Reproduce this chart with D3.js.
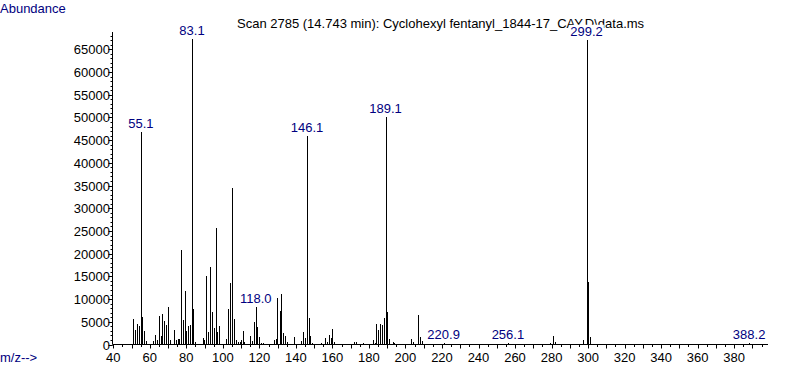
<!DOCTYPE html>
<html><head><meta charset="utf-8">
<script src="https://cdn.jsdelivr.net/npm/d3@7"></script>
<style>
html,body{margin:0;padding:0;background:#fff;}
svg{display:block;}
text{font-family:"Liberation Sans",Arial,sans-serif;}
</style></head>
<body>
<svg id="chart" width="787" height="367"></svg>
<script>
// m/z positions and abundances
const mz = [50.8,51.9,53.0,54.1,55.1,55.7,56.8,57.9,61.7,62.8,63.9,65.0,66.1,66.7,67.8,68.9,70.0,71.1,73.2,74.3,75.4,76.0,77.1,78.2,79.3,79.8,80.9,82.0,83.1,83.6,84.7,
  89.1,89.7,90.8,91.9,93.0,94.1,95.1,96.2,96.8,97.9,101.7,102.8,103.9,105.0,106.1,107.2,108.3,109.4,109.9,111.0,111.6,114.9,116.0,117.1,118.0,118.7,119.8,120.9,122.0,
  128.0,129.1,129.7,131.3,131.8,132.9,134.0,135.1,139.0,142.8,143.9,145.0,146.1,147.2,147.7,148.8,153.7,155.9,157.0,158.1,159.2,159.8,160.9,171.8,172.9,176.7,
  182.2,183.3,183.9,185.0,186.1,187.2,188.2,189.1,189.9,191.0,193.2,193.7,203.0,204.1,206.9,208.0,209.1,220.9,256.1,279.2,280.8,281.9,297.2,299.2,300.0,301.1,388.2];
const abundance = [5720,3150,4470,4030,46900,6000,2930,730,730,2050,950,6230,1830,6670,5130,4250,8210,950,3150,1100,1170,1170,20750,5350,11730,2930,4180,4400,67300,7770,500,
  1350,1000,15170,2860,17150,7260,3590,25730,2860,4030,1250,7920,13640,34530,5720,1100,500,650,900,3080,500,1980,880,5060,8210,3960,1610,440,440,
  1050,1300,10150,7480,11220,2640,1980,510,1760,880,2860,1470,45940,5940,1980,440,440,1540,660,2200,1540,3520,660,660,660,440,
  1100,440,4620,3300,4620,4400,5940,50000,7260,1320,660,440,1250,660,6520,1760,880,300,300,440,1980,660,1100,67100,13700,1760,300];
const peakLabels = ["55.1","83.1","118.0","146.1","189.1","220.9","256.1","299.2","388.2"];
const xTicks = [40,60,80,100,120,140,160,180,200,220,240,260,280,300,320,340,360,380];
const yTicks = [0,5000,10000,15000,20000,25000,30000,35000,40000,45000,50000,55000,60000,65000];
const title = "Scan 2785 (14.743 min): Cyclohexyl fentanyl_1844-17_CAY.D\\data.ms";

const svg = d3.select("#chart");
const x = d3.scaleLinear().domain([40,380]).range([113.3,734.14]);
const y = d3.scaleLinear().domain([0,65000]).range([344.5,49.3]);
const navy = "#000080";
const x0 = 112.5, yBase = 344.5, xEnd = 768, yTop = 32;

// axes lines
svg.append("line").attr("x1",x0).attr("x2",x0).attr("y1",yTop).attr("y2",yBase).attr("stroke","#000");
svg.append("line").attr("x1",x0).attr("x2",xEnd).attr("y1",yBase).attr("y2",yBase).attr("stroke","#000");

// y minor ticks
const yMinor = d3.range(0,69000,1000);
svg.append("g").selectAll("line").data(yMinor).join("line")
  .attr("x1",x0-2).attr("x2",x0).attr("y1",d=>Math.round(y(d))+0.5).attr("y2",d=>Math.round(y(d))+0.5).attr("stroke","#000");
svg.append("g").selectAll("line").data(yTicks).join("line")
  .attr("x1",x0-4).attr("x2",x0).attr("y1",d=>Math.round(y(d))+0.5).attr("y2",d=>Math.round(y(d))+0.5).attr("stroke","#000");
svg.append("g").selectAll("text").data(yTicks).join("text")
  .attr("x",110).attr("y",d=>Math.round(y(d))+5).attr("text-anchor","end")
  .attr("font-size","13px").attr("fill","#000").text(d=>d);

// x ticks
const xMinor = d3.range(40,400,5);
svg.append("g").selectAll("line").data(xMinor).join("line")
  .attr("x1",d=>Math.round(x(d))+0.5).attr("x2",d=>Math.round(x(d))+0.5)
  .attr("y1",yBase).attr("y2",d=> d%10===0 ? yBase+4 : yBase+2.5).attr("stroke","#000");
svg.append("g").selectAll("text").data(xTicks).join("text")
  .attr("x",d=>x(d)).attr("y",362).attr("text-anchor","middle")
  .attr("font-size","13px").attr("fill","#000").text(d=>d);

// bars
const data = mz.map((m,i)=>({m, v:abundance[i]}));
svg.append("g").selectAll("line").data(data).join("line")
  .attr("x1",d=>Math.round(x(d.m))+0.5).attr("x2",d=>Math.round(x(d.m))+0.5)
  .attr("y1",yBase).attr("y2",d=>Math.round(y(d.v))).attr("stroke","#000").attr("stroke-width",1);

// title
svg.append("text").attr("x",237).attr("y",28).attr("font-size","13px").attr("fill","#000").text(title);

// peak labels with white background
const lab = svg.append("g");
peakLabels.forEach(s=>{
  const m = +s;
  const d = data.find(e=>Math.abs(e.m-m)<0.01);
  const cx = x(m), top = y(d.v);
  const t = lab.append("text").attr("x",cx).attr("y",top-4).attr("text-anchor","middle")
    .attr("font-size","13px").attr("fill",navy).text(s);
  const bb = t.node().getBBox();
  lab.insert("rect","text:last-child").attr("x",bb.x-1).attr("y",bb.y+1).attr("width",bb.width+2).attr("height",bb.height-2).attr("fill","#fff");
});

svg.append("text").attr("x",0).attr("y",13).attr("font-size","13px").attr("fill",navy).text("Abundance");
svg.append("text").attr("x",0).attr("y",362).attr("font-size","13px").attr("fill",navy).text("m/z-->");
</script>
</body></html>
